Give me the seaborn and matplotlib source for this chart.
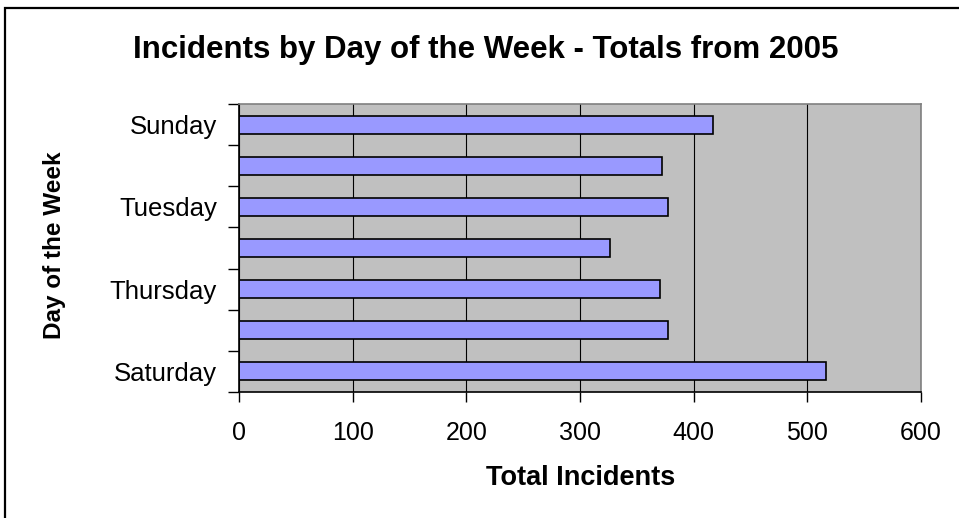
import pandas as pd
import matplotlib
matplotlib.use("Agg")
import matplotlib.pyplot as plt
import seaborn as sns
from matplotlib.patches import Rectangle
from matplotlib.ticker import FixedLocator

days = ["Sunday", "Monday", "Tuesday", "Wednesday", "Thursday", "Friday", "Saturday"]
incidents = [417, 372, 377, 326, 370, 377, 516]
shown_labels = ["Sunday", "", "Tuesday", "", "Thursday", "", "Saturday"]
x_ticks = [0, 100, 200, 300, 400, 500, 600]

plt.rcParams['font.family'] = ['Liberation Sans', 'DejaVu Sans']

data = pd.DataFrame({'day': days, 'incidents': incidents})

fig = plt.figure(figsize=(9.59, 5.18), dpi=100)
ax = fig.add_axes([239 / 959, 1 - 392 / 518, 682 / 959, 288 / 518])

ax.set_facecolor('#C0C0C0')
sns.barplot(data=data, x='incidents', y='day', order=days, orient='h',
            color='#9999FF', edgecolor='black', linewidth=1.2,
            width=0.44, saturation=1, ax=ax)

ax.set_xlim(0, 600)
ax.set_ylim(6.5, -0.5)
ax.set_xticks(x_ticks)
ax.set_xticklabels([str(t) for t in x_ticks], fontsize=18)
ax.tick_params(axis='x', direction='out', length=7, width=1, pad=14)

# labels on every other day, tick marks on the category borders
ax.set_yticks(range(len(days)))
ax.set_yticklabels(shown_labels, fontsize=18.5)
ax.tick_params(axis='y', which='major', length=0, pad=16)
ax.yaxis.set_minor_locator(FixedLocator([i - 0.5 for i in range(len(days) + 1)]))
ax.tick_params(axis='y', which='minor', direction='out', length=8, width=1)

ax.xaxis.grid(True, color='black', linewidth=0.8)
ax.yaxis.grid(False)
ax.set_axisbelow(True)

for side in ['left', 'bottom']:
    ax.spines[side].set_color('black')
    ax.spines[side].set_linewidth(1.2)
for side in ['top', 'right']:
    ax.spines[side].set_color('#808080')
    ax.spines[side].set_linewidth(1.2)

ax.set_xlabel("Total Incidents", fontsize=19.5, fontweight='bold')
ax.set_ylabel("Day of the Week", fontsize=17.5, fontweight='bold')
ax.xaxis.set_label_coords((581 - 239) / 682, (392 - 478) / 288)
ax.xaxis.label.set_va('center')
ax.yaxis.set_label_coords((54 - 239) / 682, (392 - 245) / 288)
ax.yaxis.label.set_va('center')
ax.yaxis.label.set_ha('center')

fig.text(486 / 959, 1 - 50 / 518, "Incidents by Day of the Week - Totals from 2005",
         fontsize=22.5, fontweight='bold', ha='center', va='center')

fig.patches.append(Rectangle((5 / 959, -0.1), 1.1, 1 - 8 / 518 + 0.1,
                             transform=fig.transFigure, fill=False,
                             edgecolor='black', linewidth=1.6))

fig.savefig("out.png", dpi=100)
